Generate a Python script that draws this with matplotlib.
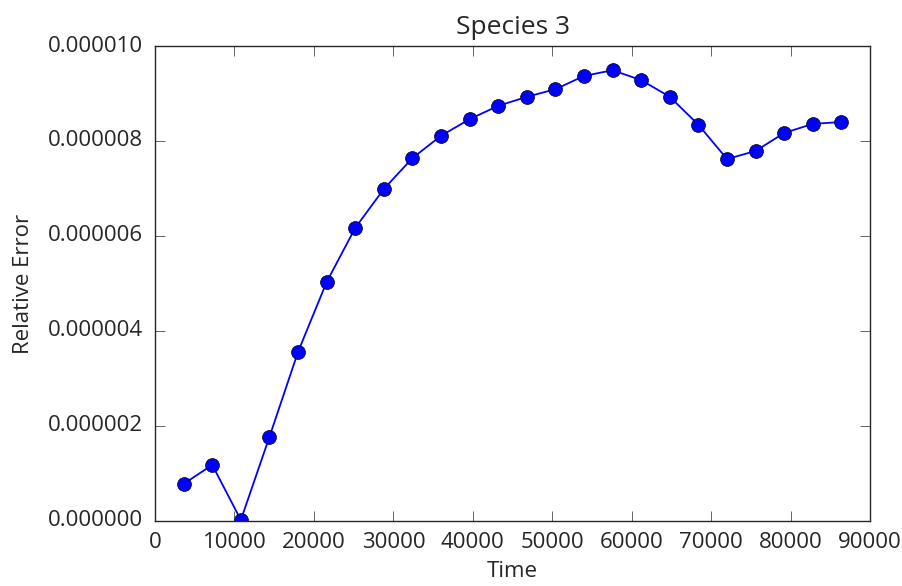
import matplotlib
matplotlib.use("Agg")
import matplotlib.pyplot as plt
from matplotlib.ticker import FormatStrFormatter

time = [3600, 7200, 10800, 14400, 18000, 21600, 25200, 28800, 32400, 36000,
        39600, 43200, 46800, 50400, 54000, 57600, 61200, 64800, 68400, 72000,
        75600, 79200, 82800, 86400]
rel_error = [0.78e-6, 1.18e-6, 0.02e-6, 1.77e-6, 3.56e-6, 5.03e-6, 6.17e-6,
             6.99e-6, 7.64e-6, 8.11e-6, 8.46e-6, 8.74e-6, 8.93e-6, 9.09e-6,
             9.37e-6, 9.49e-6, 9.28e-6, 8.93e-6, 8.34e-6, 7.62e-6, 7.79e-6,
             8.17e-6, 8.36e-6, 8.40e-6]

plt.style.use("classic")
plt.rcParams["font.family"] = ["Open Sans", "DejaVu Sans"]
plt.rcParams["text.color"] = "#262626"
plt.rcParams["xtick.color"] = "#262626"
plt.rcParams["ytick.color"] = "#262626"
plt.rcParams["axes.labelcolor"] = "#262626"
plt.rcParams["axes.edgecolor"] = "#262626"

fig = plt.figure(figsize=(9.03, 5.86), dpi=100, facecolor="white")
ax = fig.add_axes([0.1717, 0.111, 0.7918, 0.8105])

ax.plot(time, rel_error, "-o", color="b", markersize=10, linewidth=1.3)

ax.set_xlim(0, 90000)
ax.set_ylim(0, 0.00001)
ax.yaxis.set_major_formatter(FormatStrFormatter("%.6f"))
ax.tick_params(labelsize=16, direction="in", length=7)
ax.tick_params(axis="y", pad=9)
ax.tick_params(axis="x", pad=8)

ax.set_title("Species 3", fontsize=19, pad=9)
ax.set_xlabel("Time", fontsize=16, labelpad=6)
ax.set_ylabel("Relative Error", fontsize=16, labelpad=10)

fig.savefig("out.png", dpi=100, facecolor="white")
